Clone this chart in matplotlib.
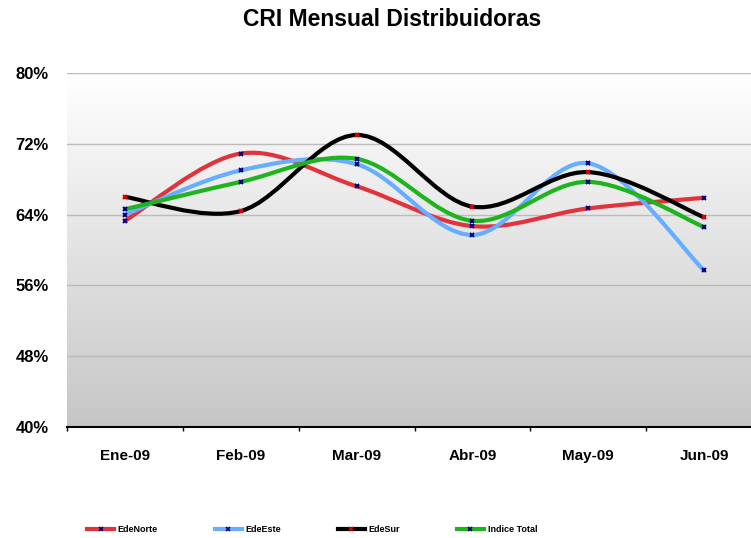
import numpy as np
import matplotlib
matplotlib.use('Agg')
import matplotlib.pyplot as plt
from matplotlib.path import Path
from matplotlib.patches import PathPatch
from matplotlib.lines import Line2D
from matplotlib.colors import LinearSegmentedColormap

plt.rcParams['font.family'] = ['Liberation Sans', 'DejaVu Sans']
plt.rcParams['font.weight'] = 'bold'

months = ['Ene-09', 'Feb-09', 'Mar-09', 'Abr-09', 'May-09', 'Jun-09']
ede_norte = [63.3, 70.9, 67.2, 62.7, 64.7, 65.9]
ede_este = [64.0, 69.0, 69.7, 61.7, 69.8, 57.7]
ede_sur = [66.0, 64.4, 73.0, 64.9, 68.8, 63.7]
indice_total = [64.6, 67.7, 70.3, 63.3, 67.7, 62.6]

series = [
    ('EdeNorte', ede_norte, '#E2323C', '#00007F'),
    ('EdeEste', ede_este, '#66AEFF', '#00007F'),
    ('EdeSur', ede_sur, '#000000', '#E00000'),
    ('Indice Total', indice_total, '#1EB41E', '#00007F'),
]


def smooth_path(x, y):
    # excel-like smoothed line: cubic bezier through the points
    pts = np.column_stack([x, y]).astype(float)
    n = len(pts)
    verts = [pts[0]]
    codes = [Path.MOVETO]
    for i in range(n - 1):
        p0 = pts[max(i - 1, 0)]
        p1 = pts[i]
        p2 = pts[i + 1]
        p3 = pts[min(i + 2, n - 1)]
        c1 = p1 + (p2 - p0) / 6
        c2 = p2 - (p3 - p1) / 6
        verts += [c1, c2, p2]
        codes += [Path.CURVE4] * 3
    return Path(verts, codes)


fig = plt.figure(figsize=(7.51, 5.38), dpi=100)
ax = fig.add_axes([67 / 751, 1 - 427 / 538, 695 / 751, 354 / 538])

x = np.arange(len(months))
ax.set_xlim(-0.5, len(months) - 0.5)

# gradient background, white on top
cmap = LinearSegmentedColormap.from_list('bg', ['#FFFFFF', '#C6C6C6'])
grad = np.linspace(0, 1, 256).reshape(-1, 1)
ax.imshow(grad, extent=[-0.5, len(months) - 0.5, 40, 80], aspect='auto',
          cmap=cmap, zorder=0, origin='upper')
ax.set_ylim(40, 80)

for yv in [48, 56, 64, 72, 80]:
    ax.axhline(yv, color='#BBBBBB', lw=1, zorder=1)

for name, vals, col, mcol in series:
    p = PathPatch(smooth_path(x, vals), fill=False, edgecolor=col, lw=3,
                  capstyle='round', joinstyle='round', zorder=3)
    ax.add_patch(p)
for name, vals, col, mcol in series:
    ax.plot(x, vals, ls='none', marker='x', ms=3.5, mew=1.4, color=mcol, zorder=4)

for s in ['top', 'right', 'left']:
    ax.spines[s].set_visible(False)
ax.spines['bottom'].set_linewidth(1.5)
ax.spines['bottom'].set_zorder(5)

ax.set_yticks([40, 48, 56, 64, 72, 80])
ax.set_yticklabels(['40%', '48%', '56%', '64%', '72%', '80%'], fontsize=12, fontweight='bold')
ax.tick_params(axis='y', length=0, pad=13)

ax.set_xticks(x)
ax.set_xticklabels(months, fontsize=11, fontweight='bold')
ax.set_xticks(np.arange(-0.5, len(months), 1), minor=True)
ax.tick_params(axis='x', which='major', length=0, pad=16)
ax.tick_params(axis='x', which='minor', length=3, width=1, color='black')

fig.text(392 / 751, 1 - 20 / 538, 'CRI Mensual Distribuidoras', ha='center', va='center',
         fontsize=16.5, fontweight='bold')

handles = [Line2D([], [], color=col, lw=3, marker='x', ms=3, mew=1.2, mec=mcol)
           for name, vals, col, mcol in series]
labels = [s[0] for s in series]
fig.legend(handles, labels, loc='center left', bbox_to_anchor=(87 / 751, 1 - 530 / 538),
           ncol=4, frameon=False, prop={'weight': 'bold', 'size': 6.5},
           handlelength=3.0, handletextpad=0.4, columnspacing=6.3, borderpad=0, borderaxespad=0)

fig.savefig('out.png', dpi=100)
